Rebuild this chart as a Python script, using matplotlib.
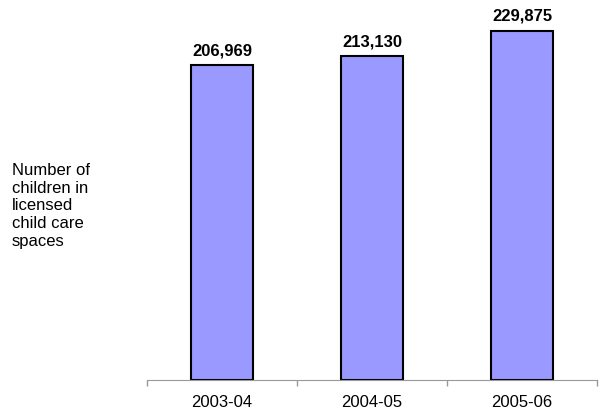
import matplotlib.pyplot as plt

years = ['2003-04', '2004-05', '2005-06']
children = [206969, 213130, 229875]
value_labels = ['206,969', '213,130', '229,875']

plt.rcParams['font.family'] = ['Liberation Sans', 'DejaVu Sans']

fig = plt.figure(figsize=(6.07, 4.19), dpi=100)
ax = fig.add_axes([0.242, 0.093, 0.7415, 0.907])

x = range(len(years))
ax.bar(x, children, width=0.41, color='#9999FF', edgecolor='black', linewidth=1.5)

for i, v in enumerate(children):
    ax.text(i, v + 4500, value_labels[i], ha='center', va='bottom',
            fontsize=12, fontweight='bold')

ax.set_xlim(-0.5, 2.5)
ax.set_ylim(0, 250000)
ax.set_xticks(list(x))
ax.set_xticklabels(years, fontsize=12)
ax.set_xticks([-0.5, 0.5, 1.5, 2.5], minor=True)
ax.tick_params(axis='x', which='major', length=0, pad=11)
ax.tick_params(axis='x', which='minor', length=4, color='#999999', width=1)
ax.set_yticks([])

for s in ['top', 'right', 'left']:
    ax.spines[s].set_visible(False)
ax.spines['bottom'].set_color('#999999')

fig.text(12 / 607, 1 - 163 / 419, 'Number of\nchildren in\nlicensed\nchild care\nspaces',
         ha='left', va='top', fontsize=12, linespacing=1.22)

fig.savefig('out.png', dpi=100)
